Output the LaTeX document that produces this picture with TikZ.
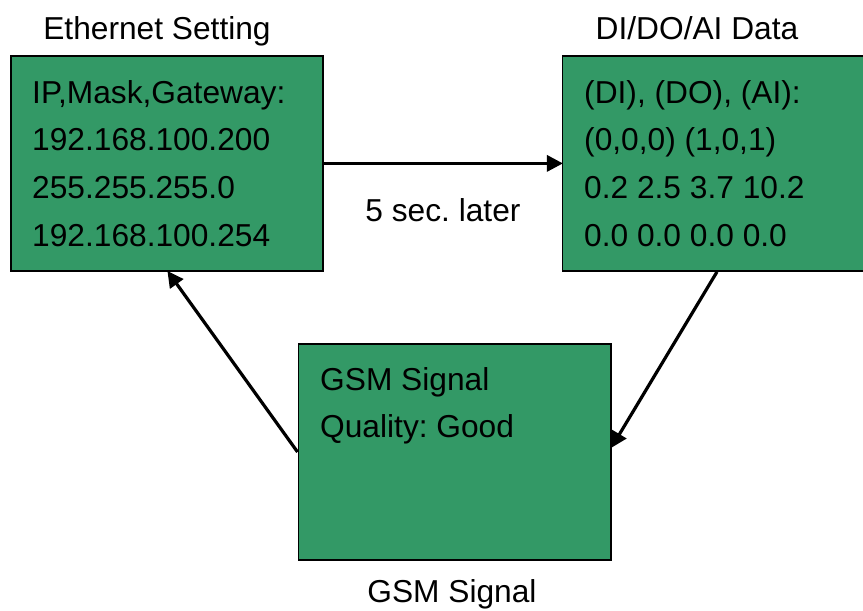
\documentclass[tikz,border=0pt]{standalone}
\usepackage{fontspec}
\setmainfont{Liberation Sans}
\usetikzlibrary{arrows.meta}
\definecolor{boxgreen}{HTML}{339966}
\frenchspacing
\begin{document}
\begin{tikzpicture}[x=1pt,y=-1pt,
  box/.style={draw=black,line width=1.5pt,fill=boxgreen,inner sep=0pt},
  txt/.style={anchor=base west,inner sep=0pt,font=\fontsize{31.7}{47.7}\selectfont},
  ctxt/.style={anchor=base,inner sep=0pt,font=\fontsize{31.7}{47.7}\selectfont},
  arr/.style={line width=3.2pt,-{Triangle[length=16pt,width=16pt]},shorten >=-1pt}]
\useasboundingbox (0,0) rectangle (863,611);
\clip (0,0) rectangle (863,611);
% boxes
\node[box,minimum width=312.3pt,minimum height=215.3pt] (box1) at (167,163.4) {};
\node[box,minimum width=305pt,minimum height=215.3pt] (box2) at (715.2,163.4) {};
\node[box,minimum width=312.7pt,minimum height=216pt] (box3) at (454.65,452) {};
% titles
\node[ctxt] (t1) at (157,39.5) {Ethernet Setting};
\node[ctxt] (t2) at (697,39.5) {DI/DO/AI Data};
\node[ctxt] (t3) at (452,602) {GSM Signal};
\node[ctxt] (t4) at (443,221) {5 sec. later};
% box 1 text
\node[txt] (a1) at (32,103) {IP,Mask,Gateway:};
\node[txt] (a2) at (32,150.7) {192.168.100.200};
\node[txt] (a3) at (32,198.4) {255.255.255.0};
\node[txt] (a4) at (32,246) {192.168.100.254};
% box 2 text
\node[txt] (b1) at (584,103) {(DI), (DO), (AI):};
\node[txt] (b2) at (584,150.7) {(0,0,0) (1,0,1)};
\node[txt] (b3) at (584,198.4) {0.2 2.5 3.7 10.2};
\node[txt] (b4) at (584,246) {0.0 0.0 0.0 0.0};
% box 3 text
\node[txt] (c1) at (320,390) {GSM Signal};
\node[txt] (c2) at (320,437.5) {Quality: Good};
% connectors
\coordinate (p2) at (box2.south -| 717,0);
\coordinate (q3) at (box3.east |- 0,447);
\coordinate (q1) at (box1.south -| 168,0);
\draw[arr] (box1.east) -- (box2.west);
\draw[arr] (p2) -- (q3);
\draw[arr] (box3.west) -- (q1);
\end{tikzpicture}
\end{document}
